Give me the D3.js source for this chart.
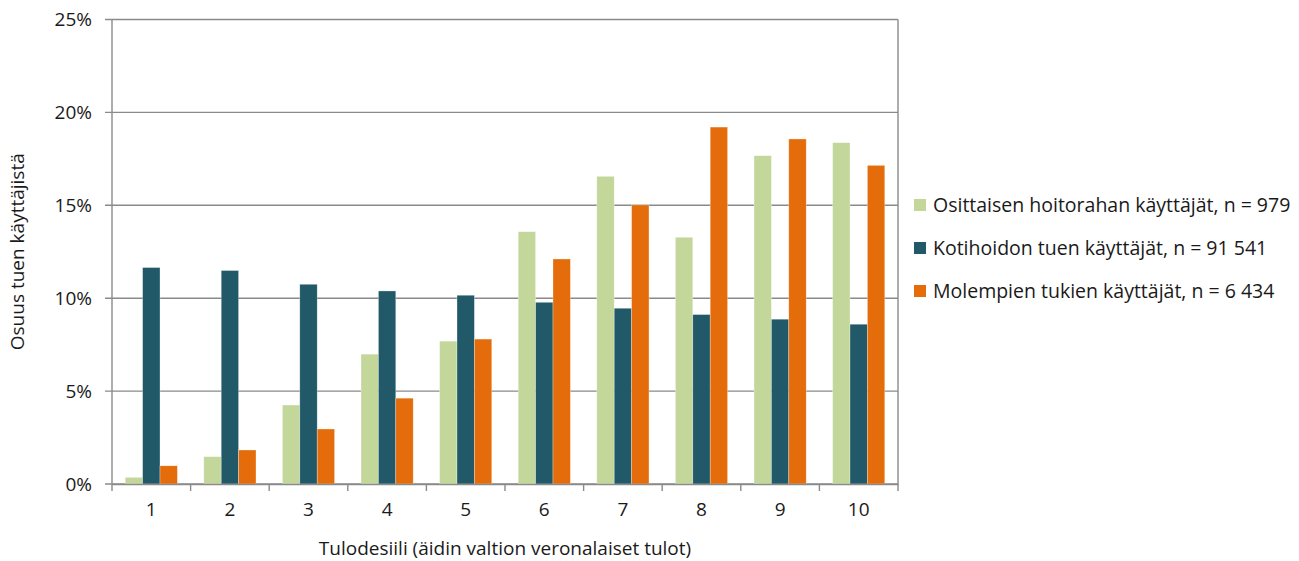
<!DOCTYPE html>
<html>
<head>
<meta charset="utf-8">
<script src="https://cdn.jsdelivr.net/npm/d3@7"></script>
<style>
  html, body { margin: 0; padding: 0; background: #fff; }
  svg { display: block; }
  text { font-family: "Open Sans", "Noto Sans", sans-serif; fill: #1a1a1a; }
</style>
</head>
<body>
<svg id="chart" width="1299" height="561"></svg>
<script>
// Tulodesiilit 1–10
const deciles = ["1", "2", "3", "4", "5", "6", "7", "8", "9", "10"];

// Osuus käyttäjistä (%) desiileittäin
const osittainen = [0.36, 1.47, 4.25, 6.99, 7.69, 13.58, 16.56, 13.28, 17.67, 18.37];
const kotihoito  = [11.65, 11.49, 10.75, 10.39, 10.16, 9.78, 9.46, 9.12, 8.87, 8.60];
const molemmat   = [0.98, 1.83, 2.96, 4.62, 7.80, 12.11, 15.02, 19.21, 18.57, 17.15];

const seriesNames = [
  "Osittaisen hoitorahan käyttäjät, n = 979",
  "Kotihoidon tuen käyttäjät, n = 91 541",
  "Molempien tukien käyttäjät, n = 6 434"
];
const seriesColors = ["#c4d79b", "#215968", "#e46c0a"];
const yTicks = [0, 5, 10, 15, 20, 25];

const series = [osittainen, kotihoito, molemmat];

const svg = d3.select("#chart");
const margin = { left: 112, right: 401, top: 19.5, bottom: 77 };
const W = 1299, H = 561;
const x0 = margin.left, x1 = W - margin.right;
const y0 = H - margin.bottom, y1 = margin.top;

const x = d3.scaleBand().domain(deciles).range([x0, x1]).paddingInner(0).paddingOuter(0);
const xs = d3.scaleBand().domain(d3.range(series.length)).range([0, x.bandwidth()])
  .paddingInner(0).paddingOuter(0.76);
const y = d3.scaleLinear().domain([0, 25]).range([y0, y1]);

const axisColor = "#8a8a8a";

// gridlines
svg.append("g").selectAll("line").data(yTicks).join("line")
  .attr("x1", x0 - 7).attr("x2", x1)
  .attr("y1", d => y(d)).attr("y2", d => y(d))
  .attr("stroke", axisColor).attr("stroke-width", 1.4);

// y tick labels
svg.append("g").selectAll("text").data(yTicks).join("text")
  .attr("x", 92).attr("y", d => y(d)).attr("dy", "0.35em")
  .attr("text-anchor", "end").attr("font-size", 19)
  .text(d => d + "%");

// bars
const groups = svg.append("g").selectAll("g").data(deciles).join("g")
  .attr("transform", d => `translate(${x(d)},0)`);
groups.selectAll("rect")
  .data((d, i) => series.map((s, k) => ({ k, v: s[i] })))
  .join("rect")
  .attr("x", d => xs(d.k))
  .attr("width", xs.bandwidth())
  .attr("y", d => y(d.v))
  .attr("height", d => y(0) - y(d.v))
  .attr("fill", d => seriesColors[d.k])
  .attr("stroke", "#ffffff").attr("stroke-opacity", 0.5).attr("stroke-width", 0.6);

// frame: left axis line and right border
svg.append("line").attr("x1", x0).attr("x2", x0).attr("y1", y1).attr("y2", y0)
  .attr("stroke", axisColor).attr("stroke-width", 1.4);
svg.append("line").attr("x1", x1).attr("x2", x1).attr("y1", y1).attr("y2", y0)
  .attr("stroke", axisColor).attr("stroke-width", 1.4);

// x axis with boundary ticks
const xAxis = d3.axisBottom(x).tickSize(0).tickPadding(19);
const gx = svg.append("g").attr("transform", `translate(0,${y0})`).call(xAxis);
gx.select(".domain").attr("stroke", axisColor).attr("stroke-width", 1.6);
gx.selectAll("text").attr("font-size", 19).attr("fill", "#1a1a1a")
  .attr("font-family", "Open Sans, Noto Sans, sans-serif");
const bounds = deciles.map(d => x(d)).concat([x1]);
svg.append("g").selectAll("line").data(bounds).join("line")
  .attr("x1", d => d).attr("x2", d => d)
  .attr("y1", y0).attr("y2", y0 + 7)
  .attr("stroke", axisColor).attr("stroke-width", 1.4);

// axis titles
svg.append("text")
  .attr("x", (x0 + x1) / 2).attr("y", 555)
  .attr("text-anchor", "middle").attr("font-size", 19)
  .text("Tulodesiili (äidin valtion veronalaiset tulot)");
svg.append("text")
  .attr("transform", `translate(24,${(y0 + y1) / 2}) rotate(-90)`)
  .attr("text-anchor", "middle").attr("font-size", 19)
  .text("Osuus tuen käyttäjistä");

// legend
const legend = svg.append("g").selectAll("g").data(seriesNames).join("g")
  .attr("transform", (d, i) => `translate(914,${205 + i * 43})`);
legend.append("rect").attr("x", 0).attr("y", -6).attr("width", 12).attr("height", 12)
  .attr("fill", (d, i) => seriesColors[i]);
legend.append("text").attr("x", 19).attr("y", 0).attr("dy", "0.35em")
  .attr("font-size", 19.5).text(d => d);
</script>
</body>
</html>
